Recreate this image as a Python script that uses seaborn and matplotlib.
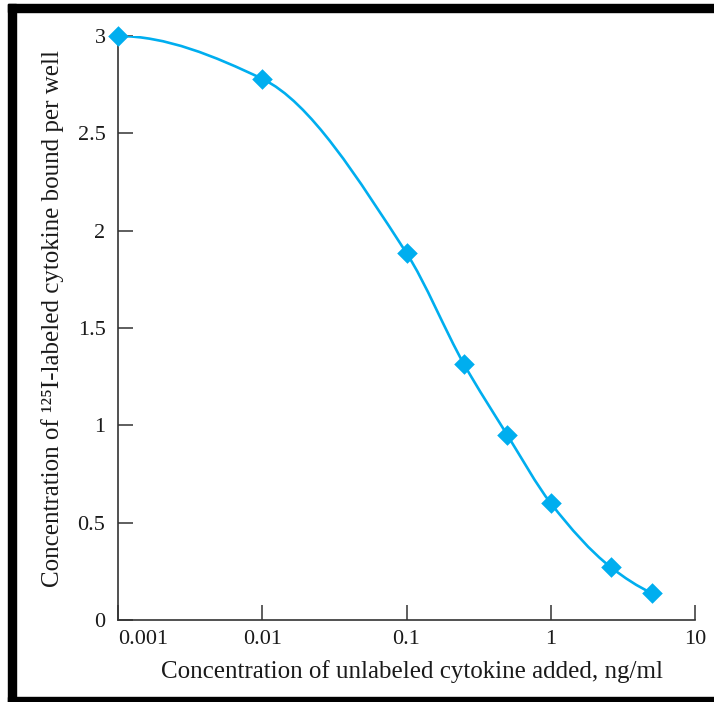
import numpy as np
import matplotlib
matplotlib.use("Agg")
import matplotlib.pyplot as plt
import seaborn as sns
from matplotlib.path import Path
from matplotlib.patches import PathPatch, Rectangle

# data
concentration = [0.001, 0.01, 0.1, 0.25, 0.5, 1.0, 2.6, 5.0]
bound = [3.0, 2.78, 1.885, 1.315, 0.95, 0.60, 0.272, 0.139]
x_ticks = [0.001, 0.01, 0.1, 1, 10]
x_tick_labels = ["0.001", "0.01", "0.1", "1", "10"]
y_ticks = [0, 0.5, 1, 1.5, 2, 2.5, 3]
y_tick_labels = ["0", "0.5", "1", "1.5", "2", "2.5", "3"]

BLUE = "#00AEEF"
AXIS = "#333333"
TEXT = "#1a1a1a"

sns.set_theme(style="white")
plt.rcParams["font.family"] = ["Liberation Serif", "DejaVu Serif"]


def smooth_path(xs, ys):
    """Monotone cubic (PCHIP) through the points, in log10(x) space,
    returned as a bezier Path in data coordinates."""
    lx = np.log10(xs)
    y = np.asarray(ys, dtype=float)
    h = np.diff(lx)
    d = np.diff(y) / h
    n = len(lx)
    m = np.zeros(n)
    for k in range(1, n - 1):
        if d[k - 1] * d[k] > 0:
            w1 = 2 * h[k] + h[k - 1]
            w2 = h[k] + 2 * h[k - 1]
            m[k] = (w1 + w2) / (w1 / d[k - 1] + w2 / d[k])
    for k, (hh0, hh1, d0, d1) in ((0, (h[0], h[1], d[0], d[1])),
                                  (n - 1, (h[-1], h[-2], d[-1], d[-2]))):
        mk = ((2 * hh0 + hh1) * d0 - hh0 * d1) / (hh0 + hh1)
        if np.sign(mk) != np.sign(d0):
            mk = 0.0
        m[k] = mk
    verts = [(xs[0], y[0])]
    codes = [Path.MOVETO]
    for k in range(n - 1):
        c1 = (10 ** (lx[k] + h[k] / 3), y[k] + m[k] * h[k] / 3)
        c2 = (10 ** (lx[k + 1] - h[k] / 3), y[k + 1] - m[k + 1] * h[k] / 3)
        verts += [c1, c2, (xs[k + 1], y[k + 1])]
        codes += [Path.CURVE4] * 3
    return Path(verts, codes)


fig = plt.figure(figsize=(7.14, 7.02), dpi=100)
ax = fig.add_axes([118 / 714, 1 - 620 / 702, 577 / 714, 584 / 702])

ax.set_xscale("log")
ax.add_patch(PathPatch(smooth_path(concentration, bound), facecolor="none",
                       edgecolor=BLUE, linewidth=1.9, zorder=2))
sns.scatterplot(x=concentration, y=bound, marker="D", s=110, color=BLUE,
                edgecolor=BLUE, linewidth=0, ax=ax, zorder=3, clip_on=False)

ax.set_xlim(0.001, 10)
ax.set_ylim(0, 3)
ax.set_xticks(x_ticks)
ax.set_xticklabels(x_tick_labels)
ax.minorticks_off()
ax.set_yticks(y_ticks)
ax.set_yticklabels(y_tick_labels)
ax.xaxis.get_majorticklabels()[0].set_horizontalalignment("left")

for side in ["top", "right"]:
    ax.spines[side].set_visible(False)
for side in ["left", "bottom"]:
    ax.spines[side].set_color(AXIS)
    ax.spines[side].set_linewidth(1.2)

ax.tick_params(axis="both", direction="in", length=11, width=1.1,
               color=AXIS, labelsize=16, labelcolor=TEXT)
ax.tick_params(axis="x", pad=7, bottom=True)
ax.tick_params(axis="y", pad=9, left=True)

ax.set_xlabel("Concentration of unlabeled cytokine added, ng/ml",
              fontsize=18, color=TEXT, labelpad=8)
ax.set_ylabel("Concentration of \u00b9\u00b2\u2075I-labeled cytokine bound per well",
              fontsize=18, color=TEXT, labelpad=10)
ax.xaxis.label.set_x(0.509)
ax.yaxis.label.set_y(0.516)
ax.patch.set_alpha(0)

# black frame of the scanned figure (top, left, bottom)
fig.add_artist(Rectangle((8 / 714, 0), 8 / 714, 1 - 4 / 702,
                         transform=fig.transFigure, color="black"))
fig.add_artist(Rectangle((8 / 714, 1 - 12 / 702), 1, 8 / 702,
                         transform=fig.transFigure, color="black"))
fig.add_artist(Rectangle((8 / 714, 0), 1, 5 / 702,
                         transform=fig.transFigure, color="black"))

fig.savefig("out.png", dpi=100)
